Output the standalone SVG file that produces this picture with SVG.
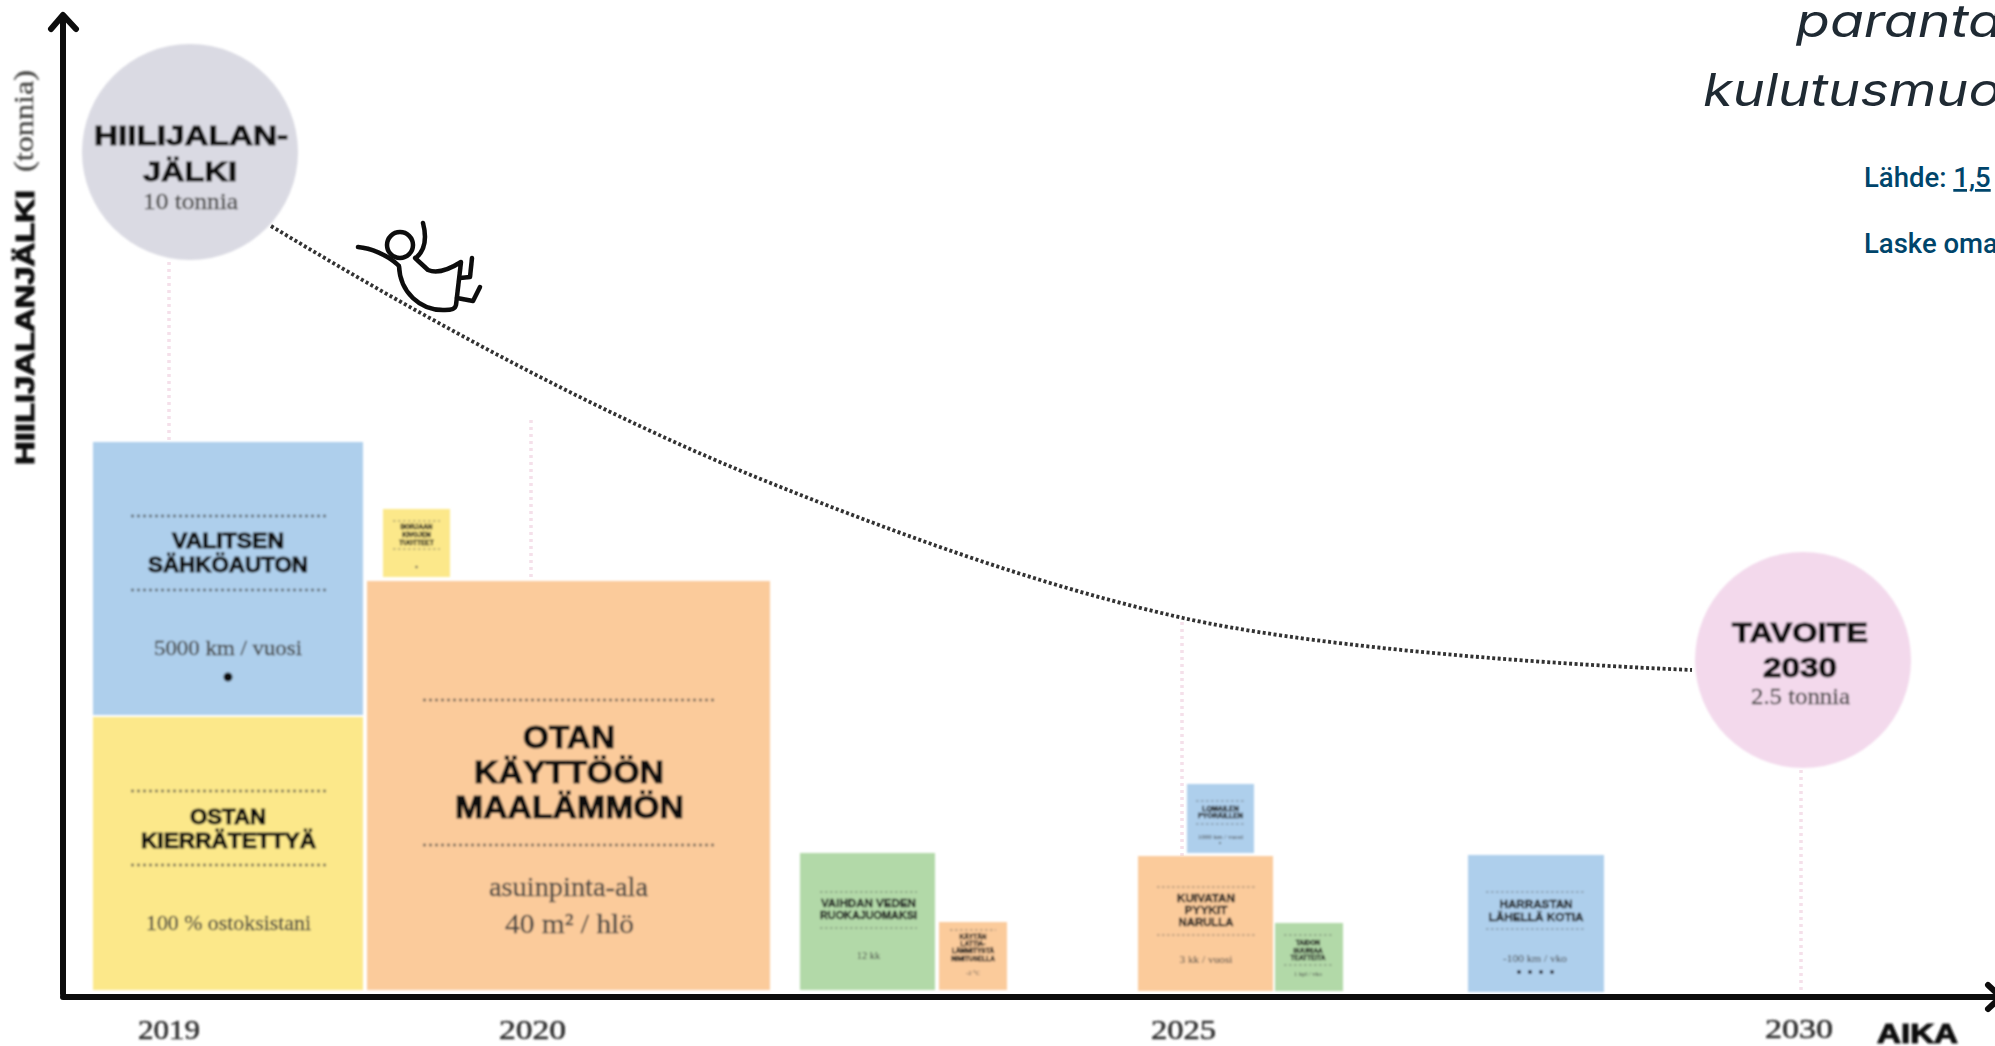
<svg xmlns="http://www.w3.org/2000/svg" width="1995" height="1046" viewBox="0 0 1995 1046">
<defs>
<style>
.h{font-family:"Liberation Sans",Arial,sans-serif;font-weight:700;fill:#111;stroke:#111;stroke-width:1.1}
.hs{font-family:"Liberation Sans",Arial,sans-serif;font-weight:700;fill:#1c1c1c;stroke:#1c1c1c;stroke-width:.35;text-anchor:middle}
.s{font-family:"Liberation Serif","Times New Roman",serif;fill:#454543;stroke:#454543;stroke-width:.35}
.ss{font-family:"Liberation Serif","Times New Roman",serif;fill:#444;text-anchor:middle}
.y{font-family:"Liberation Serif","Times New Roman",serif;font-size:27px;fill:#333;stroke:#333;stroke-width:.6}
.dl{fill:none;stroke:#444;stroke-width:2.600;stroke-dasharray:3 3;opacity:.75}
.dl2{fill:none;stroke:#555;stroke-width:1.200;stroke-dasharray:2.500 2.500;opacity:.7}
.pk{fill:none;stroke:#f5e0ea;stroke-width:3.500;stroke-dasharray:3 4}
.ax{fill:none;stroke:#0a0a0a;stroke-width:6;stroke-linecap:round;stroke-linejoin:round}
.bl{fill:#aecfec}.ye{fill:#fce88a}.or{fill:#fbcb9b}.gr{fill:#b2d9a8}
.t{font-family:Inter,"Liberation Sans",sans-serif;font-style:italic;font-weight:400;font-size:45px;fill:#1f2a33}
.l{font-family:Roboto,"Liberation Sans",sans-serif;font-weight:500;font-size:27.500px;fill:#00456b}
.fig{fill:none;stroke:#0c0c0c;stroke-width:4.500;stroke-linecap:round;stroke-linejoin:round}
</style>
<filter id="b" x="-5%" y="-5%" width="110%" height="110%"><feGaussianBlur stdDeviation=".8"/></filter>
<filter id="b2" x="-5%" y="-5%" width="110%" height="110%"><feGaussianBlur stdDeviation=".6"/></filter>
<filter id="b3" x="-5%" y="-5%" width="110%" height="110%"><feGaussianBlur stdDeviation="1"/></filter>
</defs>
<rect width="1995" height="1046" fill="#fff"/>
<g id="connectors" filter="url(#b2)">
<path class="pk" d="M169 262V442M531 420V581M1182 622V856M1801 770V992"/>
<path d="M271 226C430 322 600 414 763 480C900 535 1040 586 1183 618C1300 644 1500 662 1692 670" fill="none" stroke="#333" stroke-width="3.800" stroke-dasharray="3 2.500"/>
<path class="ax" d="M63 994V16M51 29L63 15L76 29"/>
<path class="ax" d="M63 997H1998M1988 985L2001 997L1988 1009"/>
</g>
<g id="title">
<text class="t" x="1796" y="37" textLength="206" lengthAdjust="spacingAndGlyphs">paranta</text>
<text class="t" x="1703" y="106" textLength="298" lengthAdjust="spacingAndGlyphs">kulutusmuo</text>
</g>
<g id="source">
<text class="l" x="1864" y="187">Lähde: <tspan text-decoration="underline">1,5</tspan></text>
<text class="l" x="1864" y="253">Laske oma</text>
</g>
<g id="y-label" filter="url(#b)">
<text class="h" transform="translate(34 465) rotate(-90)" font-size="26" textLength="275" lengthAdjust="spacingAndGlyphs">HIILIJALANJÄLKI</text>
<text class="s" transform="translate(33 172) rotate(-90)" font-size="27" textLength="102" lengthAdjust="spacingAndGlyphs">(tonnia)</text>
</g>
<g id="start" filter="url(#b)">
<circle cx="190" cy="152" r="108" fill="#dadae3"/>
<text class="h" x="94" y="145" font-size="28" textLength="194" lengthAdjust="spacingAndGlyphs">HIILIJALAN-</text>
<text class="h" x="143" y="181" font-size="28" textLength="94" lengthAdjust="spacingAndGlyphs">JÄLKI</text>
<text class="s" x="143" y="209" font-size="23" textLength="95" lengthAdjust="spacingAndGlyphs">10 tonnia</text>
</g>
<g id="figure" class="fig" filter="url(#b2)">
<circle cx="400" cy="245" r="13"/>
<path d="M358 247C370 248 388 255 398 265"/>
<path d="M423 223C427 238 425 250 416 258"/>
<path d="M399 266C400 292 420 311 445 310C452 310 455 309 456 305L461 262C450 269 438 274 428 270L415 258"/>
<path d="M460 278L470 277L472 258M457 298L473 301L480 287"/>
</g>
<g id="valitsen" filter="url(#b)">
<rect class="bl" x="93" y="442" width="270" height="273"/>
<path class="dl" d="M131 516H326M131 590H326"/>
<text class="h" x="172" y="548" font-size="22" textLength="112" lengthAdjust="spacingAndGlyphs">VALITSEN</text>
<text class="h" x="148" y="572" font-size="22" textLength="160" lengthAdjust="spacingAndGlyphs">SÄHKÖAUTON</text>
<text class="s" x="154" y="655" font-size="22" textLength="148" lengthAdjust="spacingAndGlyphs">5000 km / vuosi</text>
<circle cx="228" cy="677" r="4.500" fill="#111"/>
</g>
<g id="ostan" filter="url(#b)">
<rect class="ye" x="93" y="717" width="270" height="273"/>
<path class="dl" d="M131 791H326M131 865H326"/>
<text class="h" x="190" y="824" font-size="22" textLength="76" lengthAdjust="spacingAndGlyphs">OSTAN</text>
<text class="h" x="141" y="848" font-size="22" textLength="175" lengthAdjust="spacingAndGlyphs">KIERRÄTETTYÄ</text>
<text class="s" x="146" y="930" font-size="22" textLength="165" lengthAdjust="spacingAndGlyphs">100 % ostoksistani</text>
</g>
<g id="small-yellow" filter="url(#b3)">
<rect class="ye" x="383" y="509" width="67" height="68"/>
<path class="dl2" d="M393 521H440M393 549H440"/>
<g class="hs" font-size="6.500"><text x="416.500" y="529">BORJAAN</text><text x="416.500" y="537">KIVOJEN</text><text x="416.500" y="545">TUOTTEET</text></g>
<circle cx="416.500" cy="567" r="1.200" fill="#555"/>
</g>
<g id="otan" filter="url(#b)">
<rect class="or" x="367" y="581" width="403" height="409"/>
<path class="dl" d="M423 700H715M423 845H715"/>
<text class="h" x="523" y="748" font-size="31" textLength="92" lengthAdjust="spacingAndGlyphs">OTAN</text>
<text class="h" x="474" y="783" font-size="31" textLength="190" lengthAdjust="spacingAndGlyphs">KÄYTTÖÖN</text>
<text class="h" x="455" y="818" font-size="31" textLength="229" lengthAdjust="spacingAndGlyphs">MAALÄMMÖN</text>
<text class="s" x="489" y="896" font-size="28" textLength="159" lengthAdjust="spacingAndGlyphs">asuinpinta-ala</text>
<text class="s" x="505" y="933" font-size="28" textLength="129" lengthAdjust="spacingAndGlyphs">40 m² / hlö</text>
</g>
<g id="vaihdan" filter="url(#b3)">
<rect class="gr" x="800" y="853" width="135" height="137"/>
<path class="dl2" d="M820 892H917M820 928H917"/>
<text class="hs" x="868.500" y="907" font-size="11" textLength="95" lengthAdjust="spacingAndGlyphs">VAIHDAN VEDEN</text>
<text class="hs" x="868.500" y="919" font-size="11" textLength="97" lengthAdjust="spacingAndGlyphs">RUOKAJUOMAKSI</text>
<text class="ss" x="868.500" y="959" font-size="10.500">12 kk</text>
</g>
<g id="kaytan" filter="url(#b3)">
<rect class="or" x="939" y="922" width="68" height="68"/>
<path class="dl2" d="M950 930H996"/>
<g class="hs" font-size="6.500"><text x="973" y="939">KÄYTÄN</text><text x="973" y="946">LATTIA-</text><text x="973" y="953">LÄMMITYSTÄ</text><text x="973" y="961">NIMITUSELLA</text></g>
<text class="ss" x="973" y="975" font-size="6.500">-2 °C</text>
</g>
<g id="lomailen" filter="url(#b3)">
<rect class="bl" x="1187" y="784" width="67" height="69"/>
<path class="dl2" d="M1196 801H1244M1196 824H1244"/>
<g class="hs" font-size="7"><text x="1220.500" y="811">LOMAILEN</text><text x="1220.500" y="818">PYÖRÄILLEN</text></g>
<text class="ss" x="1220.500" y="839" font-size="7">1000 km / vuosi</text>
<circle cx="1220" cy="843" r="1" fill="#555"/>
</g>
<g id="kuivatan" filter="url(#b3)">
<rect class="or" x="1138" y="856" width="135" height="135"/>
<path class="dl2" d="M1157 887H1255M1157 935H1255"/>
<text class="hs" x="1206" y="902" font-size="10.500" textLength="58" lengthAdjust="spacingAndGlyphs">KUIVATAN</text>
<text class="hs" x="1206" y="914" font-size="10.500" textLength="43" lengthAdjust="spacingAndGlyphs">PYYKIT</text>
<text class="hs" x="1206" y="926" font-size="10.500" textLength="55" lengthAdjust="spacingAndGlyphs">NARULLA</text>
<text class="ss" x="1206" y="963" font-size="10.500" textLength="53" lengthAdjust="spacingAndGlyphs">3 kk / vuosi</text>
</g>
<g id="taidon" filter="url(#b3)">
<rect class="gr" x="1275" y="923" width="68" height="68"/>
<path class="dl2" d="M1284 935H1332M1284 965H1332"/>
<g class="hs" font-size="6.500"><text x="1308" y="945">TAIDON</text><text x="1308" y="953">SUURIAA</text><text x="1308" y="960">TEATTEITA</text></g>
<text class="ss" x="1308" y="976" font-size="6.500">1 kpl / vko</text>
</g>
<g id="harrastan" filter="url(#b3)">
<rect class="bl" x="1468" y="855" width="136" height="137"/>
<path class="dl2" d="M1486 892H1586M1486 929H1586"/>
<text class="hs" x="1536" y="908" font-size="11" textLength="73" lengthAdjust="spacingAndGlyphs">HARRASTAN</text>
<text class="hs" x="1536" y="921" font-size="11" textLength="95" lengthAdjust="spacingAndGlyphs">LÄHELLÄ KOTIA</text>
<text class="ss" x="1535" y="962" font-size="10.500" textLength="64" lengthAdjust="spacingAndGlyphs">-100 km / vko</text>
<g fill="#223"><circle cx="1519" cy="972" r="2"/><circle cx="1530" cy="972" r="2"/><circle cx="1541" cy="972" r="2"/><circle cx="1552" cy="972" r="2"/></g>
</g>
<g id="goal" filter="url(#b)">
<circle cx="1803" cy="660" r="108" fill="#f3d9ec"/>
<text class="h" x="1732" y="642" font-size="28" textLength="136" lengthAdjust="spacingAndGlyphs">TAVOITE</text>
<text class="h" x="1763" y="677" font-size="28" textLength="74" lengthAdjust="spacingAndGlyphs">2030</text>
<text class="s" x="1751" y="704" font-size="23" textLength="99" lengthAdjust="spacingAndGlyphs">2.5 tonnia</text>
</g>
<g id="x-labels" filter="url(#b)">
<text class="y" x="138" y="1039" textLength="62" lengthAdjust="spacingAndGlyphs">2019</text>
<text class="y" x="499" y="1039" textLength="67" lengthAdjust="spacingAndGlyphs">2020</text>
<text class="y" x="1151" y="1039" textLength="65" lengthAdjust="spacingAndGlyphs">2025</text>
<text class="y" x="1765" y="1038" textLength="68" lengthAdjust="spacingAndGlyphs">2030</text>
<text class="h" x="1877" y="1043" font-size="27" textLength="81" lengthAdjust="spacingAndGlyphs">AIKA</text>
</g>
</svg>
